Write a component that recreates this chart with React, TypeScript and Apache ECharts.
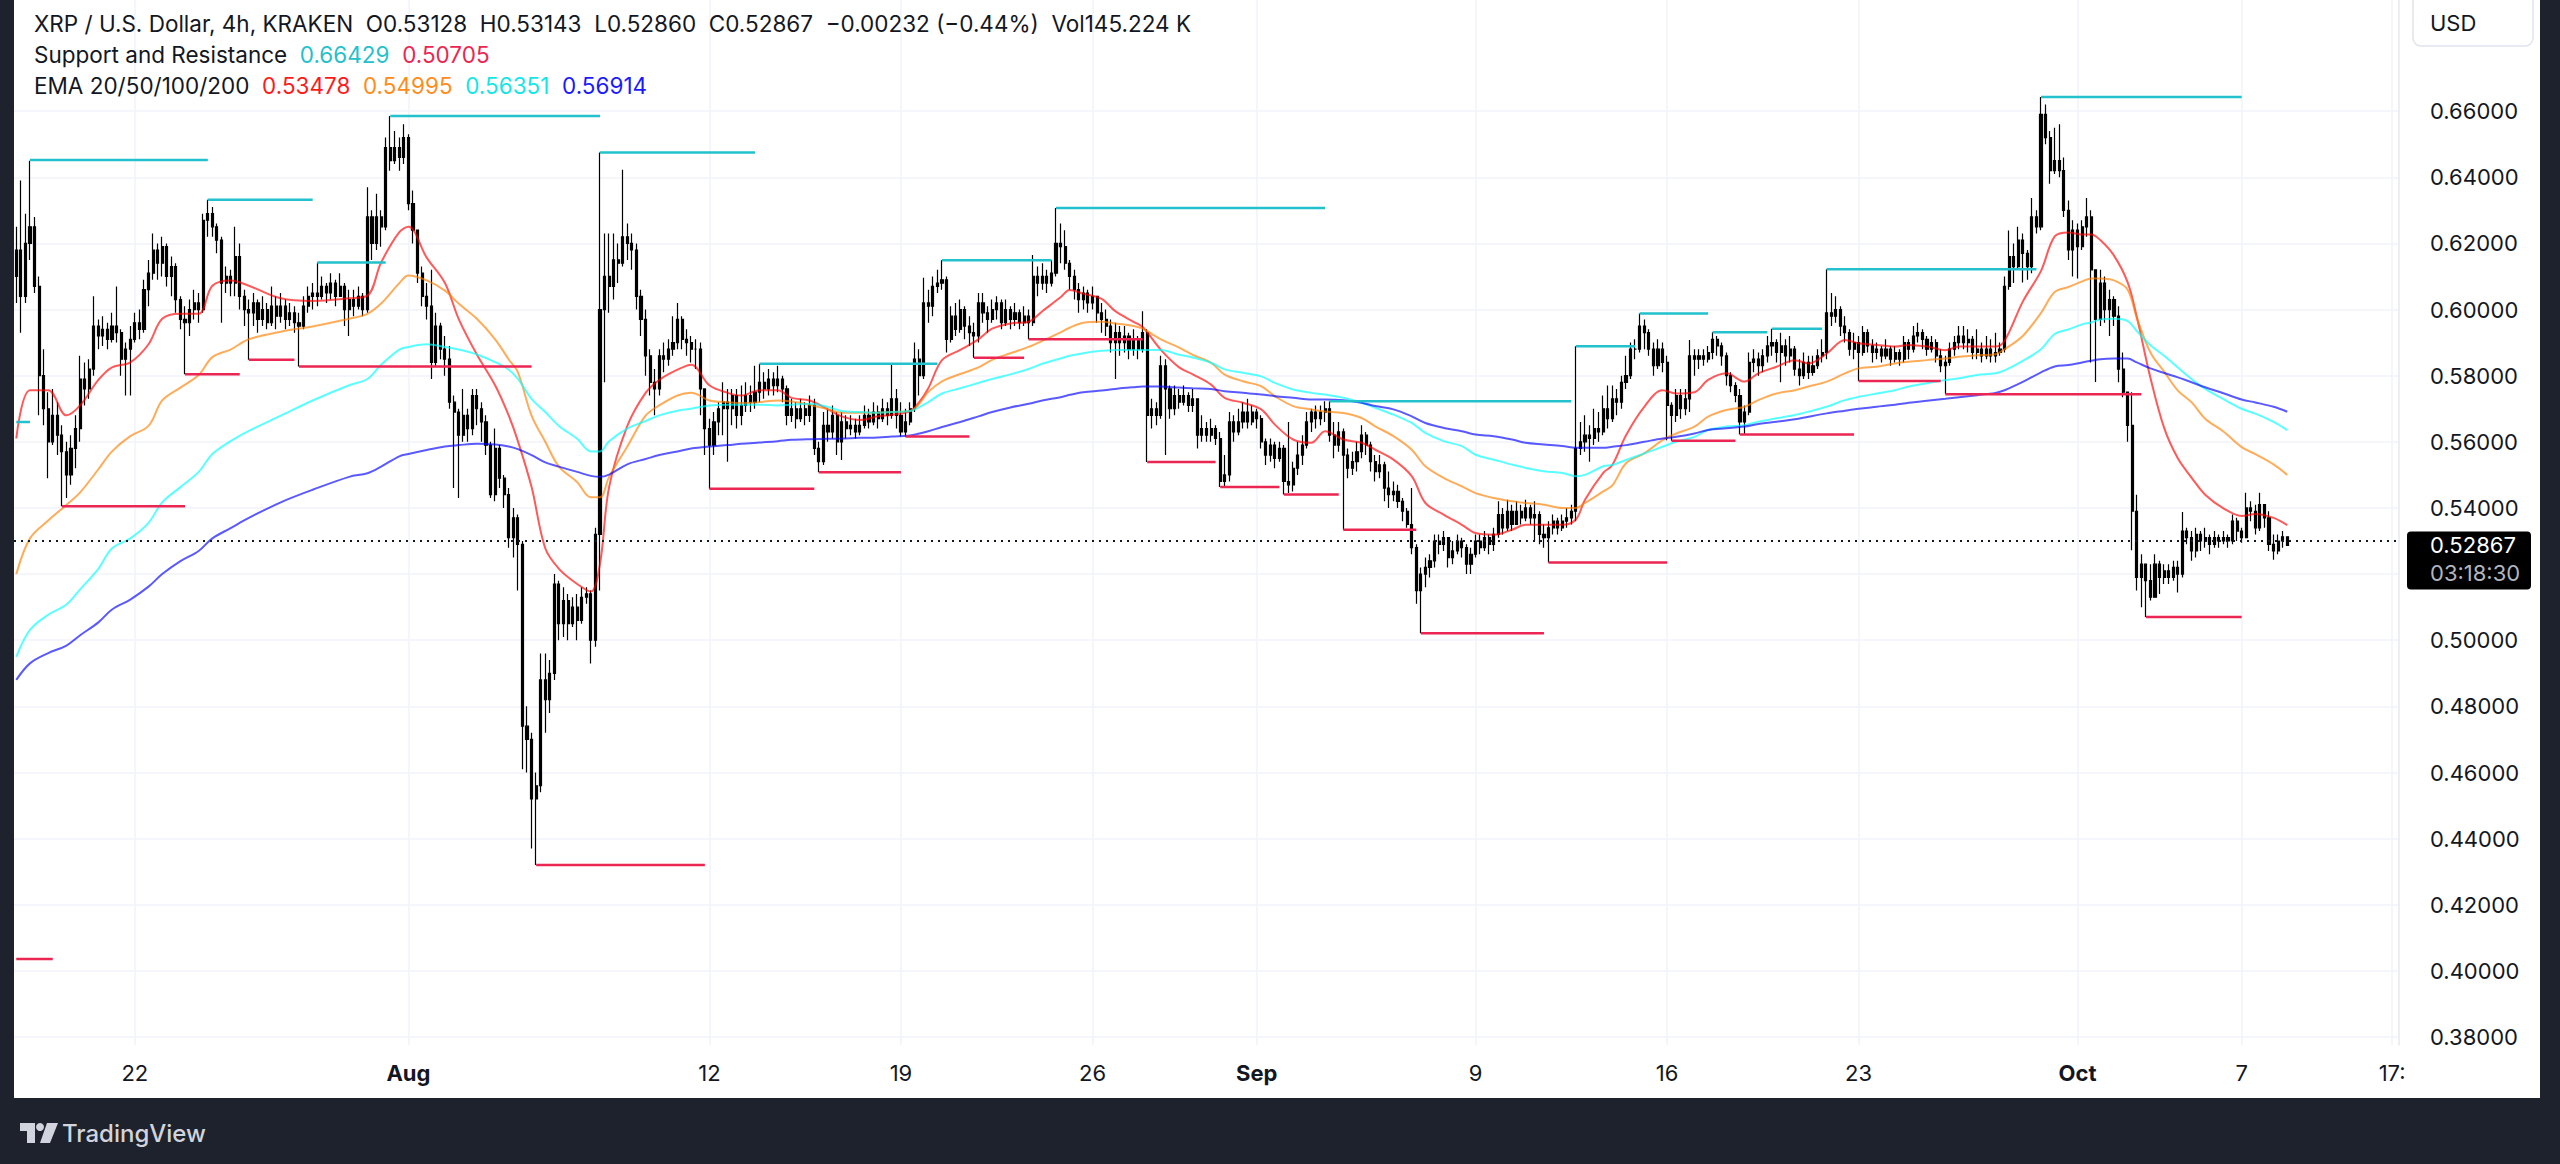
import React, { useEffect, useRef } from 'react';
import * as echarts from 'echarts';

// ---------- data ----------
const startTime = '2024-07-17T16:00:00Z'; // first 4h slot
const slotCount = 523; // 4h slots visible across the plot
const firstOpen = 0.61;

const closes = [
  .618,.604,.62,.625,.607,.58,.57,.56,.568,.562,
  .557,.55,.558,.564,.579,.576,.582,.595,.592,.594,
  .591,.595,.593,.585,.588,.591,.596,.594,.606,.611,
  .618,.614,.619,.61,.613,.603,.597,.596,.6,.602,
  .6,.627,.629,.625,.621,.608,.61,.608,.616,.604,
  .6,.599,.602,.597,.6,.596,.601,.598,.601,.597,
  .599,.596,.595,.601,.604,.605,.604,.607,.605,.608,
  .604,.607,.6,.603,.601,.604,.6,.628,.62,.628,
  .625,.649,.645,.649,.646,.652,.632,.624,.611,.604,
  .601,.584,.595,.588,.585,.572,.569,.562,.568,.564,
  .574,.57,.566,.559,.544,.558,.549,.544,.531,.537,
  .529,.474,.47,.452,.456,.488,.482,.49,.517,.505,
  .512,.505,.51,.506,.513,.514,.5,.532,.6,.61,
  .607,.615,.614,.622,.62,.618,.604,.597,.586,.578,
  .576,.586,.585,.588,.59,.597,.591,.59,.588,.588,
  .576,.564,.559,.566,.57,.572,.57,.574,.568,.571,
  .574,.572,.575,.578,.576,.579,.577,.579,.576,.568,
  .57,.567,.57,.568,.571,.558,.554,.565,.563,.568,
  .56,.566,.564,.565,.563,.565,.568,.566,.569,.567,
  .57,.568,.573,.568,.563,.566,.57,.585,.58,.602,
  .601,.607,.608,.609,.591,.598,.594,.6,.595,.593,
  .592,.602,.599,.597,.6,.602,.596,.6,.597,.599,
  .596,.598,.596,.61,.608,.61,.608,.611,.62,.619,
  .614,.61,.606,.603,.605,.602,.604,.599,.597,.595,
  .59,.593,.59,.592,.588,.591,.588,.593,.568,.57,
  .568,.583,.576,.57,.574,.572,.574,.571,.573,.562,
  .564,.562,.564,.561,.548,.55,.566,.563,.566,.569,
  .566,.569,.567,.56,.556,.559,.555,.558,.548,.547,
  .552,.556,.559,.566,.569,.567,.569,.57,.562,.559,
  .563,.556,.552,.554,.557,.562,.559,.554,.551,.553,
  .546,.544,.545,.542,.539,.535,.528,.515,.52,.522,
  .524,.53,.529,.531,.525,.527,.53,.528,.523,.526,
  .53,.528,.531,.529,.532,.538,.534,.539,.535,.539,
  .537,.54,.537,.538,.532,.531,.534,.536,.534,.536,
  .537,.539,.558,.56,.562,.561,.564,.563,.57,.567,
  .573,.572,.578,.58,.588,.588,.595,.593,.588,.583,
  .588,.584,.571,.568,.574,.57,.573,.586,.585,.586,
  .585,.587,.591,.589,.586,.58,.577,.574,.566,.569,
  .584,.585,.583,.586,.589,.59,.587,.589,.586,.588,
  .582,.58,.584,.581,.583,.586,.587,.599,.598,.6,
  .595,.593,.588,.59,.587,.593,.589,.587,.588,.586,
  .588,.585,.587,.585,.59,.588,.592,.593,.591,.588,
  .59,.586,.583,.584,.588,.59,.592,.59,.591,.587,
  .588,.586,.588,.586,.587,.588,.607,.616,.613,.621,
  .617,.613,.628,.625,.659,.652,.642,.645,.642,.63,
  .618,.624,.619,.625,.628,.612,.597,.608,.6,.603,
  .598,.582,.575,.565,.539,.519,.523,.518,.513,.523,
  .519,.521,.519,.522,.52,.533,.531,.527,.532,.53,
  .531,.529,.531,.53,.531,.53,.536,.533,.531,.54,
  .539,.534,.541,.537,.529,.527,.53,.53128,.52867,
];

const highs = [
  .625,.639,.629,.645,.628,.61,.588,.575,.576,.572,
  .565,.56,.562,.568,.586,.584,.585,.604,.597,.598,
  .596,.599,.607,.594,.59,.595,.599,.6,.609,.615,
  .623,.62,.622,.62,.616,.614,.604,.601,.603,.606,
  .605,.629,.6332,.631,.626,.622,.613,.612,.625,.62,
  .606,.603,.605,.603,.604,.602,.607,.604,.605,.603,
  .602,.601,.599,.604,.607,.608,.6142,.61,.608,.611,
  .609,.611,.608,.606,.606,.607,.605,.637,.63,.635,
  .63,.652,.6585,.654,.652,.656,.653,.636,.624,.613,
  .608,.612,.599,.596,.592,.589,.574,.57,.576,.57,
  .576,.576,.572,.568,.56,.564,.559,.55,.546,.54,
  .538,.53,.48,.472,.46,.496,.496,.494,.52,.518,
  .516,.514,.513,.514,.516,.516,.515,.534,.6475,.623,
  .623,.623,.62,.6423,.626,.623,.62,.606,.6,.588,
  .582,.588,.59,.591,.598,.602,.598,.594,.592,.591,
  .59,.576,.567,.569,.572,.578,.576,.576,.576,.577,
  .578,.577,.583,.5836,.581,.582,.581,.583,.58,.577,
  .573,.572,.573,.572,.574,.573,.56,.569,.57,.571,
  .569,.569,.568,.568,.567,.568,.571,.57,.572,.571,
  .573,.572,.5836,.576,.572,.57,.572,.59,.588,.6096,
  .606,.61,.612,.6149,.61,.601,.602,.603,.601,.598,
  .596,.605,.605,.601,.603,.604,.603,.603,.601,.602,
  .6,.601,.6,.6165,.613,.614,.612,.6149,.6307,.626,
  .624,.615,.612,.608,.607,.606,.607,.604,.602,.6,
  .597,.596,.595,.595,.593,.594,.592,.5995,.594,.573,
  .572,.586,.585,.577,.577,.576,.577,.575,.576,.573,
  .568,.566,.567,.565,.563,.556,.569,.568,.57,.572,
  .573,.571,.57,.568,.561,.561,.56,.56,.559,.566,
  .554,.56,.562,.569,.57,.571,.571,.5723,.5723,.566,
  .566,.564,.558,.557,.56,.565,.563,.56,.556,.556,
  .554,.551,.548,.547,.543,.54,.546,.529,.522,.525,
  .526,.532,.532,.533,.531,.53,.532,.531,.529,.528,
  .532,.532,.533,.532,.534,.542,.54,.5425,.541,.542,
  .541,.5425,.541,.542,.539,.535,.536,.538,.537,.538,
  .54,.541,.5889,.566,.568,.565,.57,.569,.574,.577,
  .577,.576,.58,.586,.59,.591,.5988,.597,.594,.59,
  .591,.59,.586,.572,.576,.576,.576,.5908,.588,.588,
  .588,.589,.5931,.592,.59,.587,.581,.578,.576,.571,
  .587,.588,.587,.588,.592,.5942,.591,.593,.591,.592,
  .589,.585,.587,.586,.586,.588,.591,.6122,.605,.604,
  .601,.598,.594,.593,.592,.595,.594,.591,.59,.589,
  .591,.589,.589,.588,.592,.591,.595,.596,.594,.592,
  .592,.591,.588,.586,.59,.592,.595,.595,.594,.592,
  .594,.59,.592,.591,.593,.59,.61,.6239,.62,.625,
  .623,.618,.6337,.63,.66429,.662,.654,.655,.656,.646,
  .633,.627,.626,.627,.6337,.63,.611,.612,.61,.606,
  .604,.601,.587,.575,.575,.544,.526,.523,.523,.526,
  .524,.523,.523,.524,.524,.5388,.534,.533,.534,.533,
  .534,.532,.533,.532,.533,.532,.538,.537,.534,.5446,
  .542,.541,.5446,.541,.539,.532,.532,.533,.53143,
];

const lows = [
  .602,.593,.602,.615,.605,.568,.565,.549,.559,.556,
  .5405,.543,.547,.552,.56,.571,.573,.58,.588,.589,
  .588,.59,.59,.58,.574,.574,.59,.591,.593,.601,
  .609,.609,.61,.607,.604,.599,.594,.5804,.592,.597,
  .596,.599,.622,.622,.617,.596,.605,.604,.604,.6,
  .595,.5848,.595,.593,.595,.594,.595,.594,.596,.594,
  .595,.593,.5828,.594,.599,.6,.601,.603,.602,.603,
  .601,.604,.595,.592,.598,.6,.598,.599,.615,.618,
  .619,.624,.642,.644,.642,.644,.63,.62,.608,.601,
  .597,.579,.583,.585,.58,.57,.546,.543,.56,.56,
  .562,.565,.56,.556,.543,.542,.546,.54,.528,.525,
  .515,.461,.46,.437,.432,.454,.472,.478,.488,.5,
  .501,.5,.504,.5,.505,.511,.493,.498,.515,.578,
  .599,.603,.608,.613,.615,.612,.6,.592,.58,.574,
  .568,.574,.581,.583,.586,.588,.588,.586,.584,.582,
  .568,.556,.5458,.556,.562,.562,.554,.565,.564,.565,
  .569,.569,.57,.572,.573,.574,.574,.575,.572,.565,
  .566,.564,.566,.565,.566,.556,.5508,.553,.56,.561,
  .556,.5545,.561,.562,.561,.562,.564,.564,.565,.564,
  .566,.565,.567,.564,.5616,.5616,.565,.569,.574,.579,
  .596,.598,.605,.606,.587,.59,.592,.593,.591,.589,
  .5854,.59,.596,.593,.596,.597,.594,.595,.594,.595,
  .594,.595,.591,.595,.604,.606,.605,.607,.61,.614,
  .612,.606,.603,.599,.6,.599,.6,.596,.593,.592,
  .587,.579,.586,.587,.585,.586,.585,.587,.5539,.564,
  .565,.567,.556,.567,.568,.57,.571,.569,.569,.558,
  .56,.56,.56,.559,.5463,.5463,.548,.56,.562,.564,
  .564,.565,.564,.558,.553,.554,.552,.554,.5441,.5445,
  .545,.55,.553,.558,.563,.564,.565,.566,.56,.555,
  .557,.5334,.549,.55,.551,.555,.556,.551,.548,.549,
  .542,.54,.542,.54,.536,.534,.526,.511,.5021,.516,
  .519,.522,.526,.527,.522,.523,.526,.525,.52,.52,
  .525,.526,.527,.526,.527,.531,.532,.533,.533,.535,
  .535,.536,.535,.53,.529,.528,.5235,.532,.532,.533,
  .534,.535,.536,.556,.557,.554,.559,.56,.562,.564,
  .566,.568,.57,.576,.579,.585,.587,.588,.586,.58,
  .582,.581,.5605,.5603,.566,.567,.568,.569,.58,.582,
  .583,.584,.585,.586,.583,.577,.575,.572,.5622,.5622,
  .568,.581,.58,.581,.584,.586,.584,.578,.583,.584,
  .58,.577,.579,.579,.58,.582,.584,.585,.595,.596,
  .592,.59,.586,.585,.5784,.586,.587,.584,.585,.584,
  .585,.583,.584,.583,.584,.585,.587,.59,.588,.586,
  .587,.584,.581,.5744,.583,.586,.588,.588,.587,.585,
  .585,.584,.585,.584,.584,.586,.587,.606,.608,.612,
  .6082,.609,.611,.623,.624,.65,.638,.641,.64,.628,
  .615,.61,.6094,.618,.622,.584,.5781,.595,.596,.592,
  .595,.578,.5735,.56,.5272,.515,.51,.50705,.512,.514,
  .514,.517,.517,.518,.5144,.519,.529,.524,.525,.527,
  .528,.526,.528,.528,.529,.528,.529,.53,.5295,.531,
  .536,.532,.533,.534,.527,.5243,.526,.528,.5286,
];

// EMA readings at sampled candle slots
const emaIdx = [
  0,3,7,11,14,18,21,25,29,32,
  36,40,43,47,51,58,65,73,77,80,
  84,86,90,94,97,101,105,108,110,113,
  116,119,123,126,128,130,134,138,141,145,
  148,152,156,159,163,167,170,174,178,181,
  185,189,192,196,198,200,203,207,211,214,
  218,222,225,229,231,234,238,241,245,247,
  251,255,258,262,265,269,273,276,280,284,
  287,291,295,298,302,306,309,313,317,320,
  324,328,331,335,339,342,344,348,350,353,
  357,361,364,368,371,375,379,382,386,390,
  393,397,401,404,408,412,415,419,423,426,
  430,434,436,440,444,447,450,453,455,457,
  460,463,465,468,471,474,477,480,484,488,
  491,495,498,
];
const ema20 = [
  .561,.5756,.5756,.568,.571,.5787,.5825,.584,.5895,.5972,
  .5987,.5987,.6072,.6088,.6072,.6034,.6026,.6034,.6042,.6142,
  .6234,.625,.6157,.608,.5972,.5864,.5771,.5679,.5602,.5463,
  .5278,.5216,.517,.5147,.5231,.5463,.5648,.5748,.5787,.5818,
  .5833,.5771,.5748,.574,.5756,.5756,.5733,.5725,.5698,.5677,
  .5666,.5677,.5682,.5693,.572,.5762,.5847,.5878,.591,.5942,
  .5958,.5963,.5995,.6037,.6059,.6048,.6032,.5995,.5963,.5947,
  .5878,.5825,.5804,.5773,.5733,.5718,.5698,.5652,.5607,.5597,
  .5632,.5607,.5597,.5576,.5546,.5496,.5415,.538,.5349,.5324,
  .5319,.5334,.5349,.5349,.5349,.5365,.5425,.5506,.553,.562,
  .5706,.5756,.5746,.575,.5787,.5807,.5782,.5807,.5827,.5847,
  .5837,.5867,.5908,.5898,.5893,.5888,.5893,.5888,.5877,.5888,
  .5888,.5888,.5905,.6024,.6117,.6221,.6233,.6227,.6227,.621,
  .6163,.6082,.5978,.5793,.5642,.555,.5492,.544,.5399,.5376,
  .5382,.537,.5348,
];
const ema50 = [
  .52,.5308,.5362,.5409,.5447,.5517,.5571,.5617,.5648,.5725,
  .5764,.5802,.5856,.5879,.591,.5933,.5949,.5972,.5987,.6018,
  .608,.6103,.6088,.6057,.6018,.5972,.591,.5849,.581,.5679,
  .56,.5525,.5478,.5432,.5432,.5494,.5586,.5679,.571,.574,
  .5748,.5725,.572,.5717,.572,.5725,.5722,.5712,.5698,.5688,
  .5688,.5688,.569,.5693,.5715,.5751,.5783,.5805,.5825,.5848,
  .5868,.5887,.5905,.5931,.5945,.596,.5963,.5958,.595,.5942,
  .591,.5885,.5863,.5839,.5803,.5783,.5768,.5738,.5708,.5698,
  .5692,.5687,.5672,.5647,.5617,.5576,.5526,.5491,.5465,.5445,
  .543,.542,.5415,.541,.54,.54,.5415,.545,.5468,.5535,
  .5565,.5605,.5625,.5646,.5676,.5696,.5706,.5726,.5746,.5756,
  .5767,.5782,.5807,.5822,.5827,.5837,.5842,.5847,.5852,.5857,
  .5862,.5865,.588,.592,.599,.6053,.6068,.6085,.6094,.6094,
  .6088,.606,.5975,.587,.5812,.5755,.572,.567,.5631,.5584,
  .5563,.5532,.55,
];
const ema100 = [
  .495,.5031,.5077,.5108,.5154,.5216,.5278,.5308,.5355,.5417,
  .5463,.5509,.5563,.5602,.5633,.5679,.5725,.5771,.579,.5833,
  .5879,.5887,.5895,.5887,.5879,.5864,.5841,.5818,.579,.573,
  .569,.5648,.5609,.5571,.5571,.5602,.564,.5663,.568,.5694,
  .57,.571,.5712,.5712,.5712,.571,.5712,.5715,.5705,.5693,
  .569,.5688,.569,.5693,.5705,.572,.5746,.5762,.5778,.579,
  .5804,.582,.5836,.5852,.586,.5868,.5875,.5878,.5878,.5878,
  .5878,.5863,.5855,.5839,.5819,.5809,.5798,.5778,.5758,.5748,
  .5743,.5733,.5718,.5703,.5682,.5657,.5627,.5602,.5587,.5561,
  .5546,.5531,.5521,.5511,.5506,.5496,.55,.5526,.553,.5545,
  .5565,.5585,.56,.5615,.5636,.5646,.565,.5661,.5671,.5681,
  .5691,.5706,.5726,.5736,.5746,.5756,.5767,.5777,.5787,.5792,
  .5802,.5807,.5816,.5845,.588,.5926,.594,.5955,.5961,.597,
  .5972,.5965,.5935,.5892,.586,.5825,.579,.576,.5729,.57,
  .5685,.566,.5635,
];
const ema200 = [
  .488,.493,.4961,.4984,.5015,.5054,.5093,.5123,.5162,.52,
  .5239,.527,.5308,.5339,.537,.5417,.5455,.5494,.5505,.5525,
  .5556,.5563,.5575,.5586,.559,.5594,.5592,.5586,.5578,.556,
  .5538,.5525,.5509,.5497,.5494,.5501,.5532,.5548,.556,.5571,
  .558,.5586,.559,.5594,.5598,.5602,.5606,.5608,.5609,.561,
  .5612,.5613,.5616,.5619,.5625,.5632,.5645,.566,.5677,.569,
  .5704,.5715,.5725,.5735,.5742,.575,.5755,.576,.5765,.5767,
  .5767,.5764,.5762,.576,.5753,.5748,.5743,.5738,.5733,.5728,
  .5728,.5726,.5718,.5708,.5698,.5677,.5657,.5642,.5632,.5622,
  .5617,.5607,.5597,.5592,.5587,.5582,.5582,.5582,.5585,.559,
  .56,.561,.5615,.5625,.5636,.5641,.5646,.5654,.5661,.5668,
  .5676,.5686,.5694,.57,.5706,.5712,.5718,.5724,.573,.5735,
  .5741,.5748,.5756,.5781,.581,.5828,.5832,.584,.5845,.585,
  .5852,.5852,.584,.5822,.5808,.5795,.578,.5765,.5747,.5728,
  .5719,.5706,.5691,
];

// Support & resistance levels (start slot, end slot, price)
const resStart = [0, 3, 42, 66, 82, 128, 163, 203, 228, 288, 342, 356, 372, 385, 397, 444];
const resEnd   = [3, 42, 65, 81, 128, 162, 202, 227, 287, 341, 355, 371, 384, 396, 443, 488];
const resLevel = [.566, .6452, .6332, .6142, .6585, .6475, .5836, .6149, .6307, .5723, .5889, .5988, .5931, .5942, .6122, .66429];
const supStart = [0, 10, 37, 51, 62, 114, 152, 176, 195, 210, 222, 248, 264, 278, 291, 308, 336, 363, 378, 404, 423, 467];
const supEnd   = [8, 37, 49, 61, 113, 151, 175, 194, 209, 221, 247, 263, 277, 290, 307, 335, 362, 377, 403, 422, 466, 488];
const supLevel = [.4036, .5405, .5804, .5848, .5828, .432, .5458, .5508, .5616, .5854, .591, .5539, .5463, .5441, .5334, .5021, .5235, .5603, .5622, .5784, .5744, .50705];

const priceTicks = [0.38, 0.40, 0.42, 0.44, 0.46, 0.48, 0.50, 0.52, 0.54, 0.56, 0.58, 0.60, 0.62, 0.64, 0.66];
const tickDates = ['2024-07-22', '2024-08-01', '2024-08-12', '2024-08-19', '2024-08-26', '2024-09-01', '2024-09-09', '2024-09-16', '2024-09-23', '2024-10-01', '2024-10-07', '2024-10-12T12:00:00Z'];
const tickTexts = ['22', 'Aug', '12', '19', '26', 'Sep', '9', '16', '23', 'Oct', '7', '17:'];
const monthTicks = ['Aug', 'Sep', 'Oct'];

const headerMain = 'XRP / U.S. Dollar, 4h, KRAKEN  O0.53128  H0.53143  L0.52860  C0.52867  −0.00232 (−0.44%)  Vol145.224 K';
const srName = 'Support and Resistance';
const srValues = ['0.66429', '0.50705'];
const emaName = 'EMA 20/50/100/200';
const emaValues = ['0.53478', '0.54995', '0.56351', '0.56914'];
const lastPriceText = '0.52867';
const countdownText = '03:18:30';
const currency = 'USD';

// ---------- styling ----------
const FONT = 'Inter';
const TEXT = '#131722';
const GRID = '#f0f3fa';
const DARK = '#1e222d';
const HEAD_SIZE = 22.5;
const emaColors = ['rgba(255,0,0,0.65)', 'rgba(255,128,0,0.65)', 'rgba(0,255,255,0.65)', 'rgba(0,0,255,0.65)'];
const emaLegendColors = ['#ff1a1a', '#ff8c1a', '#12e6e6', '#1a1aff'];
const RES_COLOR = '#22c1cc';
const SUP_COLOR = '#ec2652';

export default function App() {
  const ref = useRef<HTMLDivElement>(null);

  useEffect(() => {
    if (!ref.current) return;
    const chart = echarts.init(ref.current, undefined, { renderer: 'svg' });

    const startMs = Date.parse(startTime);
    const slotMs = 4 * 3600 * 1000;
    const categories = Array.from({ length: slotCount }, (_, i) =>
      new Date(startMs + i * slotMs).toISOString().slice(0, 13)
    );
    const labelMap = new Map<number, string>();
    tickDates.forEach((d, k) => {
      labelMap.set(Math.round((Date.parse(d) - startMs) / slotMs), tickTexts[k]);
    });

    const candleData = closes.map((c, i) => {
      const o = i === 0 ? firstOpen : closes[i - 1];
      return [o, c, Math.min(lows[i], o, c), Math.max(highs[i], o, c)];
    });
    const lastClose = closes[closes.length - 1];

    const segData = (s: number[], e: number[], v: number[]) => {
      const out: any[] = [];
      s.forEach((x, k) => {
        out.push([x, v[k]], [e[k], v[k]], [e[k], '-']);
      });
      return out;
    };

    const emaSeries = [ema20, ema50, ema100, ema200].map((arr, k) => ({
      type: 'line',
      name: 'EMA' + k,
      data: emaIdx.map((x, j) => [x, arr[j]]),
      smooth: 0.35,
      showSymbol: false,
      symbol: 'none',
      lineStyle: { width: 2, color: emaColors[k] },
      z: 3,
      silent: true,
    }));

    const richHead = (key: string, color: string) => ({ [key]: { fill: color, color, fontSize: HEAD_SIZE, fontFamily: FONT } });

    const staticGraphics: any[] = [
      { id: 'bandL', type: 'rect', shape: { x: 0, y: 0, width: 14, height: 1164 }, style: { fill: DARK }, z: 50, silent: true },
      { id: 'bandR', type: 'rect', shape: { x: 2540, y: 0, width: 20, height: 1164 }, style: { fill: DARK }, z: 50, silent: true },
      { id: 'bandB', type: 'rect', shape: { x: 0, y: 1098, width: 2560, height: 66 }, style: { fill: DARK }, z: 50, silent: true },
      { id: 'logoA', type: 'polygon', shape: { points: [[20, 1123], [35, 1123], [35, 1143], [27, 1143], [27, 1131], [20, 1131]] }, style: { fill: '#d1d4dc' }, z: 51 },
      { id: 'logoB', type: 'circle', shape: { cx: 40, cy: 1127, r: 4 }, style: { fill: '#d1d4dc' }, z: 51 },
      { id: 'logoC', type: 'polygon', shape: { points: [[47, 1123], [58, 1123], [50, 1143], [40, 1143]] }, style: { fill: '#d1d4dc' }, z: 51 },
      { id: 'logoText', type: 'text', x: 62, y: 1133, style: { text: 'TradingView', fill: '#d1d4dc', fontSize: 24, fontFamily: FONT, fontWeight: 500, verticalAlign: 'middle' }, z: 51 },
      { id: 'usdBox', type: 'rect', shape: { x: 2413, y: -6, width: 120, height: 52, r: 8 }, style: { fill: '#fff', stroke: '#e0e3eb', lineWidth: 1.5 }, z: 40 },
      { id: 'usdText', type: 'text', x: 2430, y: 23, style: { text: currency, fill: TEXT, fontSize: 22, fontFamily: FONT, verticalAlign: 'middle' }, z: 41 },
      { id: 'head1', type: 'text', x: 34, y: 23, style: { text: headerMain, fill: TEXT, fontSize: HEAD_SIZE, fontFamily: FONT, verticalAlign: 'middle' }, z: 41 },
      {
        id: 'head2', type: 'text', x: 34, y: 54,
        style: {
          text: `{n|${srName}}  {c|${srValues[0]}}  {r|${srValues[1]}}`,
          fontSize: HEAD_SIZE, fontFamily: FONT, verticalAlign: 'middle', fill: TEXT,
          rich: { ...richHead('n', TEXT), ...richHead('c', RES_COLOR), ...richHead('r', SUP_COLOR) },
        },
        z: 41,
      },
      {
        id: 'head3', type: 'text', x: 34, y: 85,
        style: {
          text: `{n|${emaName}}  {a|${emaValues[0]}}  {b|${emaValues[1]}}  {c|${emaValues[2]}}  {d|${emaValues[3]}}`,
          fontSize: HEAD_SIZE, fontFamily: FONT, verticalAlign: 'middle', fill: TEXT,
          rich: {
            ...richHead('n', TEXT),
            ...richHead('a', emaLegendColors[0]),
            ...richHead('b', emaLegendColors[1]),
            ...richHead('c', emaLegendColors[2]),
            ...richHead('d', emaLegendColors[3]),
          },
        },
        z: 41,
      },
    ];

    const option: any = {
      animation: false,
      backgroundColor: '#ffffff',
      textStyle: { fontFamily: FONT },
      grid: { left: 14, right: 161, top: 0, bottom: 119, containLabel: false, outerBoundsMode: 'none' },
      xAxis: {
        type: 'category',
        data: categories,
        boundaryGap: true,
        axisLine: { show: false },
        axisTick: { show: false, alignWithLabel: true },
        axisLabel: {
          interval: (i: number) => labelMap.has(i),
          formatter: (_v: string, i: number) => {
            const t = labelMap.get(i) || '';
            return monthTicks.includes(t) ? `{m|${t}}` : t;
          },
          color: TEXT,
          fontSize: 22,
          fontFamily: FONT,
          margin: 17,
          rich: { m: { fontWeight: 'bold', fontSize: 22, fontFamily: FONT, color: TEXT } },
        },
        splitLine: {
          show: true,
          alignWithLabel: true,
          interval: (i: number) => labelMap.has(i),
          lineStyle: { color: GRID, width: 1.5 },
        },
      },
      yAxis: {
        type: 'value',
        position: 'right',
        min: 0.3776,
        max: 0.6936,
        scale: true,
        axisLine: { show: true, lineStyle: { color: '#e6e8ee', width: 1.5 } },
        axisTick: { show: false, customValues: priceTicks },
        axisLabel: {
          customValues: priceTicks,
          formatter: (v: number) => v.toFixed(5),
          color: TEXT,
          fontSize: 22,
          fontFamily: FONT,
          margin: 31,
          showMinLabel: true,
          showMaxLabel: true,
        },
        splitLine: { show: true, lineStyle: { color: GRID, width: 1.5 } },
      },
      series: [
        {
          type: 'candlestick',
          name: 'XRP',
          data: candleData,
          barWidth: 2.6,
          itemStyle: {
            color: '#000', color0: '#000', borderColor: '#000', borderColor0: '#000',
            borderColorDoji: '#000', borderWidth: 1.2,
          },
          silent: true,
          z: 2,
          markLine: {
            silent: true,
            symbol: ['none', 'none'],
            label: { show: false },
            lineStyle: { color: TEXT, type: [2, 5], width: 2 },
            data: [{ yAxis: lastClose }],
          },
        },
        ...emaSeries,
        {
          type: 'line', name: 'Resistance', data: segData(resStart, resEnd, resLevel),
          showSymbol: false, symbol: 'none', connectNulls: false,
          lineStyle: { width: 2.5, color: RES_COLOR }, z: 4, silent: true,
        },
        {
          type: 'line', name: 'Support', data: segData(supStart, supEnd, supLevel),
          showSymbol: false, symbol: 'none', connectNulls: false,
          lineStyle: { width: 2.5, color: SUP_COLOR }, z: 4, silent: true,
        },
      ],
      graphic: { elements: staticGraphics },
    };

    chart.setOption(option);

    const py = chart.convertToPixel({ yAxisIndex: 0 }, lastClose) as number;
    chart.setOption({
      graphic: {
        elements: [
          ...staticGraphics,
          { id: 'pBox', type: 'rect', shape: { x: 2407, y: py - 14, width: 124, height: 58, r: 4 }, style: { fill: '#000' }, z: 60 },
          { id: 'pText', type: 'text', x: 2430, y: py, style: { text: lastPriceText, fill: '#ffffff', fontSize: 22, fontFamily: FONT, verticalAlign: 'middle' }, z: 61 },
          { id: 'pTimer', type: 'text', x: 2430, y: py + 28, style: { text: countdownText, fill: '#b2b5be', fontSize: 22, fontFamily: FONT, verticalAlign: 'middle' }, z: 61 },
        ],
      },
    });

    return () => chart.dispose();
  }, []);

  return (
    <div
      ref={ref}
      style={{ position: 'fixed', left: 0, top: 0, width: 2560, height: 1164, background: '#fff' }}
    />
  );
}
